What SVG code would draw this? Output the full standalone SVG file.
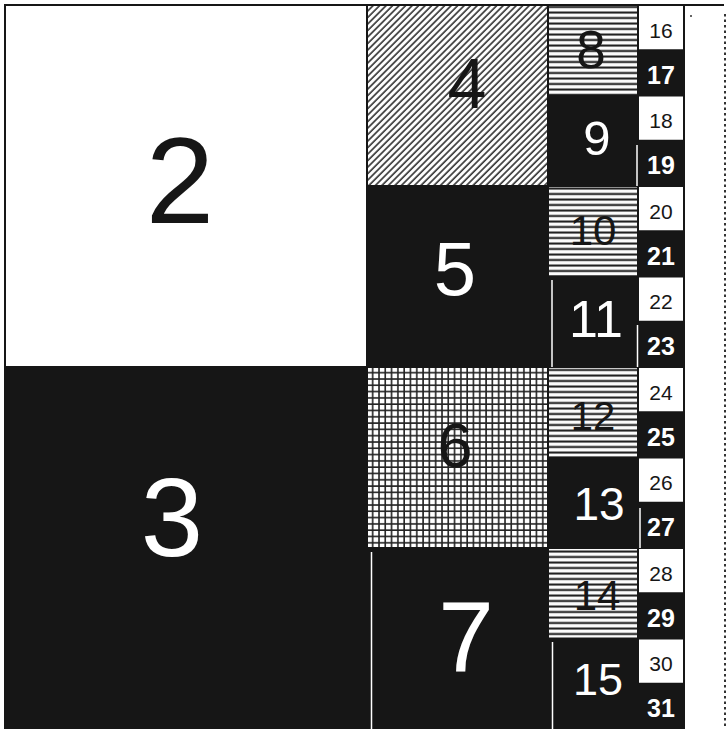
<svg xmlns="http://www.w3.org/2000/svg" width="728" height="731" viewBox="0 0 728 731">
<defs>
<pattern id="diag" patternUnits="userSpaceOnUse" width="4.6" height="4.6" patternTransform="rotate(45)">
<rect width="4.6" height="4.6" fill="#fff"/>
<line x1="1" y1="0" x2="1" y2="4.6" stroke="#222" stroke-width="1.5"/>
</pattern>
<pattern id="horiz" patternUnits="userSpaceOnUse" width="10" height="5.5">
<rect width="10" height="5.5" fill="#fbfbfb"/>
<line x1="0" y1="1.5" x2="10" y2="1.5" stroke="#1a1a1a" stroke-width="2"/>
</pattern>
<pattern id="grid" patternUnits="userSpaceOnUse" width="6.3" height="6.3">
<rect width="6.3" height="6.3" fill="#fff"/>
<line x1="1" y1="0" x2="1" y2="6.3" stroke="#222" stroke-width="1.6"/>
<line x1="0" y1="1" x2="6.3" y2="1" stroke="#222" stroke-width="1.6"/>
</pattern>
</defs>
<style>
.k{fill:#161616}
.wt{fill:#fff}
text{font-family:"Liberation Sans",Arial,sans-serif;text-anchor:middle}
.tb{fill:#161616}
.tw{fill:#fff}
.ev{font-size:21px;fill:#161616}
.od{font-size:25px;font-weight:bold;fill:#fff}
.gap{stroke:#fff;stroke-width:1.5}
</style>
<rect width="728" height="731" fill="#fff"/>

<g id="n2"><rect x="5" y="5" width="362" height="362" class="wt" stroke="#161616" stroke-width="2"/><text x="180" y="223" font-size="123" class="tb">2</text></g>
<g id="n3"><rect x="5" y="367" width="362" height="362" class="k"/><text x="172" y="556" font-size="112" class="tw">3</text></g>

<g id="n4"><rect x="367" y="5" width="181" height="181" fill="url(#diag)" stroke="#161616" stroke-width="2"/><text x="467" y="108" font-size="70" class="tb">4</text></g>
<g id="n5"><rect x="367" y="186" width="181" height="181" class="k"/><text x="455" y="295" font-size="76" class="tw">5</text></g>
<g id="n6"><rect x="367" y="367" width="181" height="181" fill="url(#grid)" stroke="#161616" stroke-width="2"/><text x="455" y="467" font-size="63" class="tb">6</text></g>
<g id="n7"><rect x="367" y="548" width="181" height="181" class="k"/><text x="466" y="672" font-size="100" class="tw">7</text></g>

<g id="n8"><rect x="548" y="5" width="90" height="90.5" fill="url(#horiz)" stroke="#161616" stroke-width="2"/><text x="591" y="68" font-size="53" class="tb">8</text></g>
<g id="n9"><rect x="548" y="95.5" width="90" height="90.5" class="k"/><text x="597" y="155" font-size="49" class="tw">9</text></g>
<g id="n10"><rect x="548" y="186" width="90" height="90.5" fill="url(#horiz)" stroke="#161616" stroke-width="2"/><text x="593" y="245" font-size="42" class="tb">10</text></g>
<g id="n11"><rect x="548" y="276.5" width="90" height="90.5" class="k"/><text x="596" y="337" font-size="52" class="tw">11</text></g>
<g id="n12"><rect x="548" y="367" width="90" height="90.5" fill="url(#horiz)" stroke="#161616" stroke-width="2"/><text x="593" y="430" font-size="40" class="tb">12</text></g>
<g id="n13"><rect x="548" y="457.5" width="90" height="90.5" class="k"/><text x="599" y="520" font-size="46" class="tw">13</text></g>
<g id="n14"><rect x="548" y="548" width="90" height="90.5" fill="url(#horiz)" stroke="#161616" stroke-width="2"/><text x="597" y="610" font-size="42" class="tb">14</text></g>
<g id="n15"><rect x="548" y="638.5" width="90" height="90.5" class="k"/><text x="598" y="695" font-size="45" class="tw">15</text></g>

<g id="n16"><rect x="638" y="5" width="46" height="45.25" class="wt" stroke="#161616" stroke-width="2"/><text x="661" y="37.6" class="ev">16</text></g>
<g id="n17"><rect x="638" y="50.25" width="46" height="45.25" class="k"/><text x="661" y="83.9" class="od">17</text></g>
<g id="n18"><rect x="638" y="95.5" width="46" height="45.25" class="wt" stroke="#161616" stroke-width="2"/><text x="661" y="128.1" class="ev">18</text></g>
<g id="n19"><rect x="638" y="140.75" width="46" height="45.25" class="k"/><text x="661" y="174.4" class="od">19</text></g>
<g id="n20"><rect x="638" y="186" width="46" height="45.25" class="wt" stroke="#161616" stroke-width="2"/><text x="661" y="218.6" class="ev">20</text></g>
<g id="n21"><rect x="638" y="231.25" width="46" height="45.25" class="k"/><text x="661" y="264.9" class="od">21</text></g>
<g id="n22"><rect x="638" y="276.5" width="46" height="45.25" class="wt" stroke="#161616" stroke-width="2"/><text x="661" y="309.1" class="ev">22</text></g>
<g id="n23"><rect x="638" y="321.75" width="46" height="45.25" class="k"/><text x="661" y="355.4" class="od">23</text></g>
<g id="n24"><rect x="638" y="367" width="46" height="45.25" class="wt" stroke="#161616" stroke-width="2"/><text x="661" y="399.6" class="ev">24</text></g>
<g id="n25"><rect x="638" y="412.25" width="46" height="45.25" class="k"/><text x="661" y="445.9" class="od">25</text></g>
<g id="n26"><rect x="638" y="457.5" width="46" height="45.25" class="wt" stroke="#161616" stroke-width="2"/><text x="661" y="490.1" class="ev">26</text></g>
<g id="n27"><rect x="638" y="502.75" width="46" height="45.25" class="k"/><text x="661" y="536.4" class="od">27</text></g>
<g id="n28"><rect x="638" y="548" width="46" height="45.25" class="wt" stroke="#161616" stroke-width="2"/><text x="661" y="580.6" class="ev">28</text></g>
<g id="n29"><rect x="638" y="593.25" width="46" height="45.25" class="k"/><text x="661" y="626.9" class="od">29</text></g>
<g id="n30"><rect x="638" y="638.5" width="46" height="45.25" class="wt" stroke="#161616" stroke-width="2"/><text x="661" y="671.1" class="ev">30</text></g>
<g id="n31"><rect x="638" y="683.75" width="46" height="45.25" class="k"/><text x="661" y="717.4" class="od">31</text></g>

<g id="frame">
<line x1="5" y1="5" x2="724" y2="5" stroke="#161616" stroke-width="2"/>
<line x1="5" y1="5" x2="5" y2="729" stroke="#161616" stroke-width="2"/>
<line x1="684" y1="5" x2="684" y2="729" stroke="#161616" stroke-width="2"/>
<line x1="725" y1="14" x2="725" y2="729" stroke="#333" stroke-width="2" stroke-dasharray="2.5 3"/>
<circle cx="691" cy="16" r="1" fill="#333"/>
</g>

<g id="connectors" class="gap">
<line x1="371.5" y1="552" x2="371.5" y2="729"/>
<line x1="552.5" y1="642" x2="552.5" y2="729"/>
<line x1="552" y1="280" x2="552" y2="367"/>
<line x1="637.5" y1="325" x2="637.5" y2="367"/>
<line x1="637" y1="145" x2="637" y2="186"/>
<line x1="640" y1="508" x2="640" y2="548"/>
</g>
</svg>
